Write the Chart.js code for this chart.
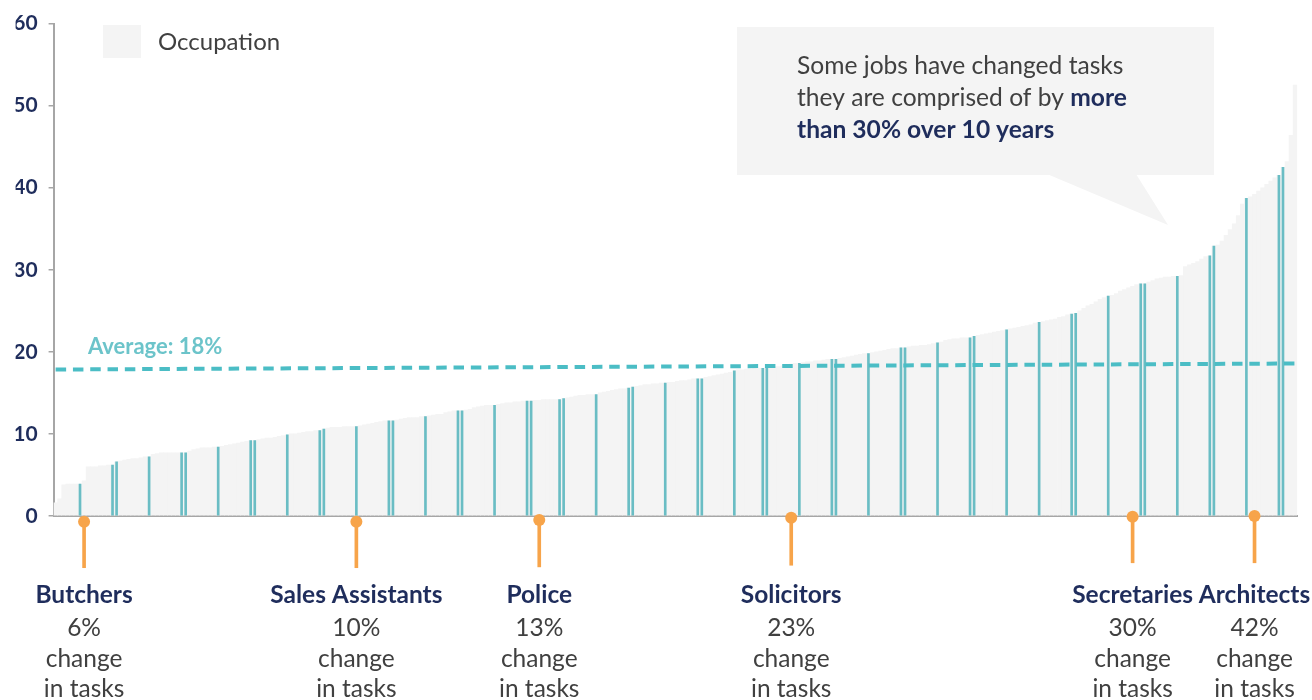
<!DOCTYPE html>
<html>
<head>
<meta charset="utf-8">
<title>Change in tasks by occupation</title>
<script src="https://cdn.jsdelivr.net/npm/chart.js@4.4.0/dist/chart.umd.min.js"></script>
<style>
  html, body { margin: 0; padding: 0; background: #fff; }
  #wrap { width: 1312px; height: 700px; }
</style>
</head>
<body>
<div id="wrap"><canvas id="chart"></canvas></div>
<script>
// % change in tasks, one value per occupation, sorted
const occupationChange = [
  1.6, 2.1, 3.8, 3.9, 3.9, 3.9, 3.9, 4.3, 6.0, 6.0, 6.0, 6.1, 6.1, 6.2, 6.2, 6.6, 6.7,
  6.8, 6.9, 7.0, 7.0, 7.1, 7.2, 7.2, 7.5, 7.6, 7.7, 7.7, 7.7, 7.7, 7.7, 7.7, 7.7, 7.9,
  8.1, 8.2, 8.3, 8.3, 8.3, 8.4, 8.4, 8.5, 8.6, 8.7, 8.8, 8.9, 9.0, 9.1, 9.2, 9.2, 9.3,
  9.4, 9.5, 9.5, 9.6, 9.7, 9.8, 9.9, 10.0, 10.0, 10.1, 10.2, 10.3, 10.3, 10.4, 10.4, 10.6, 10.7,
  10.8, 10.8, 10.8, 10.9, 10.9, 10.9, 10.9, 11.0, 11.1, 11.2, 11.3, 11.4, 11.5, 11.6, 11.6, 11.6, 11.7,
  11.8, 11.9, 12.0, 12.0, 12.0, 12.1, 12.1, 12.2, 12.3, 12.4, 12.4, 12.6, 12.7, 12.8, 12.8, 12.8, 12.9,
  13.0, 13.2, 13.3, 13.4, 13.5, 13.5, 13.5, 13.6, 13.7, 13.8, 13.8, 13.9, 13.9, 14.0, 14.0, 14.0, 14.1,
  14.1, 14.2, 14.2, 14.2, 14.2, 14.2, 14.3, 14.4, 14.5, 14.6, 14.7, 14.7, 14.8, 14.8, 14.8, 15.0, 15.1,
  15.2, 15.3, 15.4, 15.5, 15.5, 15.6, 15.7, 15.8, 15.9, 16.0, 16.0, 16.1, 16.1, 16.2, 16.2, 16.3, 16.3,
  16.4, 16.5, 16.5, 16.6, 16.7, 16.7, 16.7, 16.9, 17.0, 17.1, 17.2, 17.3, 17.4, 17.5, 17.7, 17.8, 17.8,
  17.9, 17.9, 18.0, 18.0, 18.0, 18.0, 18.1, 18.2, 18.2, 18.3, 18.4, 18.5, 18.6, 18.6, 18.7, 18.8, 18.8,
  18.9, 18.9, 19.0, 19.1, 19.1, 19.1, 19.2, 19.3, 19.4, 19.5, 19.6, 19.7, 19.8, 19.8, 19.9, 20.0, 20.1,
  20.2, 20.3, 20.4, 20.4, 20.5, 20.5, 20.6, 20.7, 20.7, 20.8, 20.8, 20.9, 21.0, 21.1, 21.2, 21.4, 21.5,
  21.6, 21.6, 21.7, 21.7, 21.7, 21.9, 22.0, 22.1, 22.2, 22.3, 22.4, 22.5, 22.6, 22.7, 22.8, 22.9, 23.0,
  23.1, 23.2, 23.3, 23.5, 23.6, 23.7, 23.8, 23.9, 24.0, 24.2, 24.3, 24.5, 24.6, 24.7, 25.0, 25.3, 25.6,
  25.8, 26.1, 26.4, 26.6, 26.8, 26.9, 27.1, 27.4, 27.6, 27.8, 28.0, 28.2, 28.3, 28.3, 28.5, 28.7, 28.9,
  29.0, 29.1, 29.1, 29.2, 29.2, 29.3, 30.4, 30.6, 30.8, 31.0, 31.3, 31.6, 31.7, 32.9, 33.0, 33.5, 34.2,
  34.9, 35.6, 36.6, 38.0, 38.7, 38.9, 39.2, 39.6, 40.0, 40.4, 40.8, 41.2, 41.5, 42.5, 43.2, 46.4, 52.5
];
const occupationIds = occupationChange.map((v, i) => String(i + 1));

// occupations drawn as teal lines
const highlightIdx = [6, 14, 15, 23, 31, 32, 40, 48, 49, 57, 65, 66, 74, 82, 83, 91, 99, 100,
  108, 116, 117, 124, 125, 133, 141, 142, 150, 158, 159, 167, 174, 175, 183, 191, 192, 200,
  208, 209, 217, 225, 226, 234, 242, 250, 251, 259, 267, 268, 276, 284, 285, 293, 301, 302];

// average line, start and end value
const averageLine = [17.85, 18.58];
const averageLabel = 'Average: 18%';

// named examples under the axis
const exampleIdx = [7, 74, 119, 181, 265, 295];
const exampleNames = ['Butchers', 'Sales Assistants', 'Police', 'Solicitors', 'Secretaries', 'Architects'];
const examplePct = ['6%', '10%', '13%', '23%', '30%', '42%'];
const exampleDot = [-0.7, -0.7, -0.5, -0.2, -0.1, 0];
const exampleStemEnd = [-6.3, -6.3, -6.2, -6.0, -5.7, -5.7];

const yTicks = [0, 10, 20, 30, 40, 50, 60];

const NAVY = '#1f2d5c';
const TEXT = '#404040';
const GREY_BAR = '#f4f4f4';
const TEAL = '#6abdc4';
const TEAL_DASH = '#4bbdc5';
const ORANGE = '#f7a44a';
const FONT = 'Lato, "Open Sans", sans-serif';

const sparse = (idx, values) => {
  const out = occupationChange.map(() => null);
  idx.forEach((k, j) => { out[k] = values[j]; });
  return out;
};

const avgData = occupationChange.map(() => null);
avgData[0] = averageLine[0];
avgData[avgData.length - 1] = averageLine[1];

const annotate = {
  id: 'annotate',
  afterDraw(chart) {
    const { ctx, scales: { x } } = chart;
    ctx.save();

    // legend
    ctx.fillStyle = GREY_BAR;
    ctx.fillRect(103, 25, 38, 33);
    ctx.fillStyle = TEXT;
    ctx.font = '24px ' + FONT;
    ctx.textBaseline = 'middle';
    ctx.textAlign = 'left';
    ctx.fillText(chart.data.datasets[1].label, 158, 42);

    // average label
    ctx.fillStyle = '#6cc4ca';
    ctx.font = 'bold 22px ' + FONT;
    ctx.fillText(averageLabel, 88, 347);

    // callout
    ctx.fillStyle = GREY_BAR;
    ctx.fillRect(737, 27, 477, 148);
    ctx.beginPath();
    ctx.moveTo(1047, 174);
    ctx.lineTo(1136, 174);
    ctx.lineTo(1168, 225);
    ctx.closePath();
    ctx.fill();

    ctx.font = '24.6px ' + FONT;
    ctx.fillStyle = TEXT;
    ctx.fillText('Some jobs have changed tasks', 797, 66);
    const l2 = 'they are comprised of by ';
    ctx.fillText(l2, 797, 98);
    const w2 = ctx.measureText(l2).width;
    ctx.font = 'bold 24.6px ' + FONT;
    ctx.fillStyle = NAVY;
    ctx.fillText('more', 797 + w2, 98);
    ctx.fillText('than 30% over 10 years', 797, 130);

    // example labels
    ctx.textAlign = 'center';
    exampleIdx.forEach((k, j) => {
      const px = x.getPixelForValue(k);
      ctx.font = 'bold 24.5px ' + FONT;
      ctx.fillStyle = NAVY;
      ctx.fillText(exampleNames[j], px, 595);
      ctx.font = '24.5px ' + FONT;
      ctx.fillStyle = TEXT;
      ctx.fillText(examplePct[j], px, 628);
      ctx.fillText('change', px, 659);
      ctx.fillText('in tasks', px, 689);
    });
    ctx.restore();
  }
};

new Chart(document.getElementById('chart'), {
  data: {
    labels: occupationIds,
    datasets: [
      {
        type: 'bar',
        label: 'Highlighted',
        data: sparse(highlightIdx, highlightIdx.map(k => occupationChange[k])),
        backgroundColor: TEAL,
        barThickness: 2,
        grouped: false,
        order: 2
      },
      {
        type: 'bar',
        label: 'Occupation',
        data: occupationChange,
        backgroundColor: GREY_BAR,
        barPercentage: 1,
        categoryPercentage: 1,
        grouped: false,
        order: 3
      },
      {
        type: 'line',
        label: 'Average',
        data: avgData,
        spanGaps: true,
        borderColor: TEAL_DASH,
        borderWidth: 4,
        borderDash: [10.5, 6.8],
        pointRadius: 0,
        order: 1
      },
      {
        type: 'bar',
        label: 'Stems',
        data: sparse(exampleIdx, exampleIdx.map((k, j) => [exampleDot[j], exampleStemEnd[j]])),
        backgroundColor: ORANGE,
        barThickness: 3,
        grouped: false,
        clip: false,
        order: 0
      },
      {
        type: 'line',
        label: 'Examples',
        data: sparse(exampleIdx, exampleDot),
        showLine: false,
        pointRadius: 6,
        pointBackgroundColor: ORANGE,
        pointBorderWidth: 0,
        clip: false,
        order: 0
      }
    ]
  },
  options: {
    responsive: true,
    maintainAspectRatio: false,
    animation: false,
    events: [],
    layout: { padding: { left: 15.6, right: 14.8, top: 23.3, bottom: 184 } },
    plugins: {
      legend: { display: false },
      tooltip: { enabled: false }
    },
    scales: {
      x: {
        type: 'category',
        offset: true,
        ticks: { display: false },
        grid: { display: false, drawTicks: false },
        border: { display: true, color: '#a6a6a6', width: 2 }
      },
      y: {
        min: 0,
        max: 60,
        afterBuildTicks: (s) => { s.ticks = yTicks.map(v => ({ value: v })); },
        afterFit: (s) => { s.width = 38; },
        ticks: {
          color: NAVY,
          font: { family: FONT, size: 21, weight: 'bold' },
          padding: 11
        },
        grid: { drawOnChartArea: false, tickLength: 5, color: '#a6a6a6', lineWidth: 1.5 },
        border: { display: true, color: '#a6a6a6', width: 2 }
      }
    }
  },
  plugins: [annotate]
});
</script>
</body>
</html>
